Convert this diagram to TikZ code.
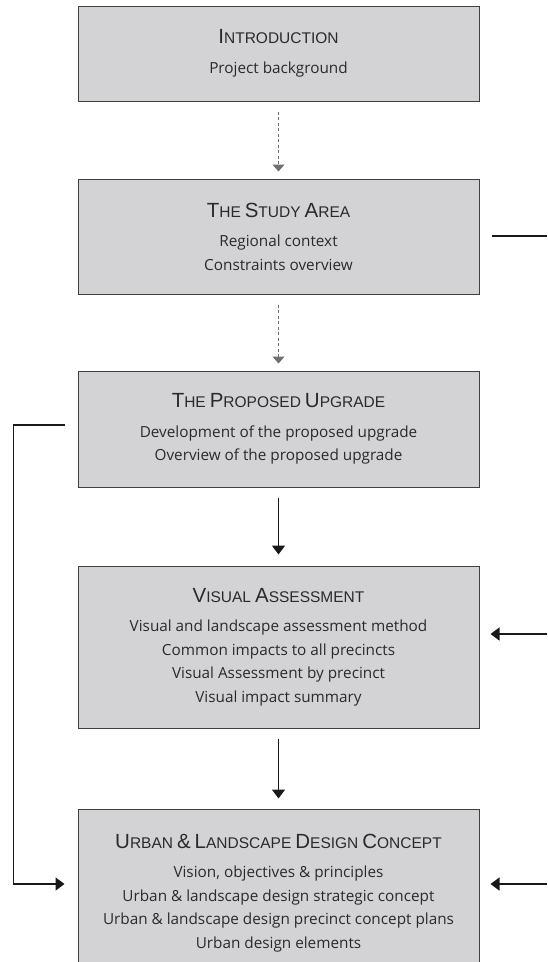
\documentclass[tikz,border=0pt]{standalone}
\usepackage{fontspec}
\setmainfont{Open Sans}
\newfontfamily\headfont{Liberation Sans}
\usetikzlibrary{positioning, arrows.meta, calc}
\definecolor{boxfill}{HTML}{D3D3D5}
\definecolor{boxline}{HTML}{404040}
\definecolor{textink}{HTML}{2A2A2A}
\definecolor{dashink}{HTML}{707070}
\newcommand{\capL}[1]{{\headfont\fontsize{20.5}{20}\selectfont #1}}
\newcommand{\capS}[1]{{\headfont\fontsize{15.5}{16}\selectfont #1}}

\begin{document}
\begin{tikzpicture}[
  x=1pt, y=-1pt,
  line cap=butt, line join=miter,
  stagebox/.style = {draw=boxline, line width=1pt, fill=boxfill,
                     minimum width=401pt, inner sep=0pt, anchor=center,
                     text=textink, align=center,
                     font=\fontsize{15.3}{23.5}\selectfont},
  flow/.style = {draw=black!90, line width=1.4pt,
                 -{Triangle[length=9pt, width=13pt]}},
  link/.style = {draw=black!90, line width=1.4pt},
  dashflow/.style = {draw=dashink, line width=1pt, dash pattern=on 3pt off 2.5pt,
                     -{Triangle[length=7pt, width=12pt, fill=dashink]},
                     shorten <=10pt, shorten >=7pt}
]
\useasboundingbox (0,0) rectangle (547,962);

\node[stagebox, minimum height=95pt] (intro) at (278.5,53.5)
  {\capL{I}\capS{NTRODUCTION}\\[6pt]
   Project background};
\node[stagebox, minimum height=115pt] (study) at (278.5,236.5)
  {\capL{T}\capS{HE} \capL{S}\capS{TUDY} \capL{A}\capS{REA}\\[6pt]
   Regional context\\
   Constraints overview};
\node[stagebox, minimum height=116pt] (upgrade) at (278.5,429)
  {\capL{T}\capS{HE} \capL{P}\capS{ROPOSED} \capL{U}\capS{PGRADE}\\[6pt]
   Development of the proposed upgrade\\
   Overview of the proposed upgrade};
\node[stagebox, minimum height=162pt] (assess) at (278.5,647)
  {\capL{V}\capS{ISUAL} \capL{A}\capS{SSESSMENT}\\[6pt]
   Visual and landscape assessment method\\
   Common impacts to all precincts\\
   Visual Assessment by precinct\\
   Visual impact summary};
\node[stagebox, minimum height=168pt] (urban) at (278.5,893)
  {\capL{U}\capS{RBAN} \capL{\&} \capL{L}\capS{ANDSCAPE} \capL{D}\capS{ESIGN} \capL{C}\capS{ONCEPT}\\[6pt]
   Vision, objectives \& principles\\
   Urban \& landscape design strategic concept\\
   Urban \& landscape design precinct concept plans\\
   Urban design elements};

% free ends on the right
\coordinate (studyout) at (547,236);
\coordinate (assessin) at (547,634);
\coordinate (urbanin)  at (547,884);

% main sequence
\draw[dashflow] (intro) -- (study);
\draw[dashflow] (study) -- (upgrade);
\draw[flow, shorten <=10pt, shorten >=11pt] (upgrade) -- (assess);
\draw[flow, shorten <=10pt, shorten >=10pt] (assess) -- (urban);

% side links
\draw[link, shorten <=12pt] (studyout -| study.east) -- (studyout);
\draw[flow, shorten >=11pt] (assessin) -- (assessin -| assess.east);
\draw[flow, shorten >=11pt] (urbanin) -- (urbanin -| urban.east);
\draw[flow] ([xshift=-13pt, yshift=4pt]upgrade.west) -- ++(-51,0)
  |- ([xshift=-13pt, yshift=9pt]urban.west);

\end{tikzpicture}
\end{document}
